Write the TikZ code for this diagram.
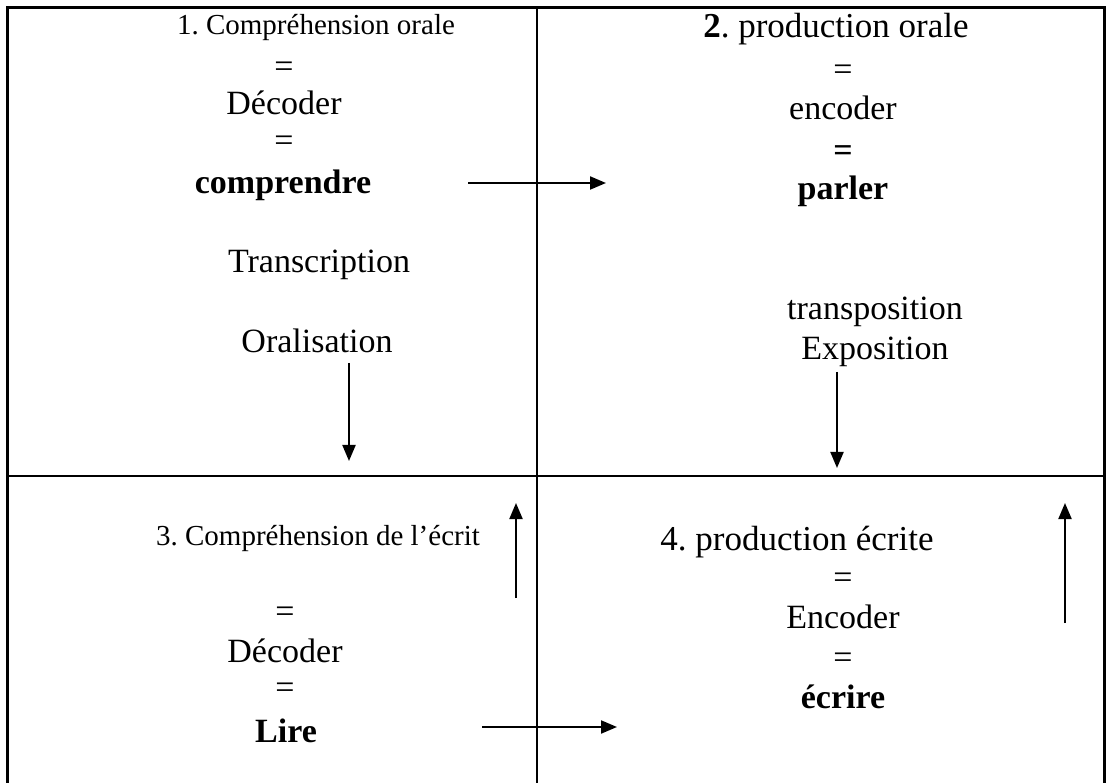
\documentclass[tikz,border=0pt]{standalone}
\usepackage{fontspec}
\setmainfont{Liberation Serif}
\usetikzlibrary{arrows.meta}
\frenchspacing

\tikzset{
  texto/.style={anchor=base, inner sep=0pt, font=\fontsize{34}{40}\selectfont},
  titulo/.style={anchor=base, inner sep=0pt, font=\fontsize{35}{40}\selectfont},
  pequeno/.style={anchor=base, inner sep=0pt, font=\fontsize{29}{34}\selectfont},
  seta/.style={line width=2pt, -{Triangle[length=16pt,width=13pt]}},
}

\begin{document}
\begin{tikzpicture}[x=1pt, y=-1pt]
\useasboundingbox (0,0) rectangle (1109,783);

% Tableau
\draw[line width=3pt] (7,783) -- (7,8) -- (1104,8) -- (1104,783);
\draw[line width=2pt] (537,8) -- (537,783);
\draw[line width=2pt] (7,476) -- (1104,476);

% Case 1
\node[pequeno] (titre1) at (316,35) {1. Compréhension orale};
\node[texto] (egal1a) at (284,77.5) {=};
\node[texto] (decoder1) at (284,115) {Décoder};
\node[texto] (egal1b) at (284,151.5) {=};
\node[texto] (comprendre) at (283,194) {\textbf{comprendre}};
\node[texto] (transcription) at (319,273) {Transcription};
\node[texto] (oralisation) at (317,353) {Oralisation};

% Case 2
\node[titulo] (titre2) at (836,38) {\textbf{2}. production orale};
\node[texto] (egal2a) at (843,80.5) {=};
\node[texto] (encoder2) at (843,120) {encoder};
\node[texto] (egal2b) at (843,161.5) {\textbf{=}};
\node[texto] (parler) at (843,200) {\textbf{parler}};
\node[texto] (transposition) at (875,320) {transposition};
\node[texto] (exposition) at (875,360) {Exposition};

% Case 3
\node[pequeno] (titre3) at (318,545) {3. Compréhension de l’écrit};
\node[texto] (egal3a) at (285,622.5) {=};
\node[texto] (decoder3) at (285,662) {Décoder};
\node[texto] (egal3b) at (285,698.5) {=};
\node[texto] (lire) at (286,742) {\textbf{Lire}};

% Case 4
\node[titulo] (titre4) at (797,550) {4. production écrite};
\node[texto] (egal4a) at (843,588.5) {=};
\node[texto] (encoder4) at (843,628) {Encoder};
\node[texto] (egal4b) at (843,668.5) {=};
\node[texto] (ecrire) at (843,708) {\textbf{écrire}};

% Flèches
\coordinate (f1a) at (468,183);
\coordinate (f1b) at (606,183);
\coordinate (f2a) at (349,363);
\coordinate (f2b) at (349,461);
\coordinate (f3a) at (837,372);
\coordinate (f3b) at (837,468);
\coordinate (f4a) at (516,598);
\coordinate (f4b) at (516,503);
\coordinate (f5a) at (482,727);
\coordinate (f5b) at (617,727);
\coordinate (f6a) at (1065,623);
\coordinate (f6b) at (1065,503);

\draw[seta] (f1a) -- (f1b);
\draw[seta] (f2a) -- (f2b);
\draw[seta] (f3a) -- (f3b);
\draw[seta] (f4a) -- (f4b);
\draw[seta] (f5a) -- (f5b);
\draw[seta] (f6a) -- (f6b);

\end{tikzpicture}
\end{document}
